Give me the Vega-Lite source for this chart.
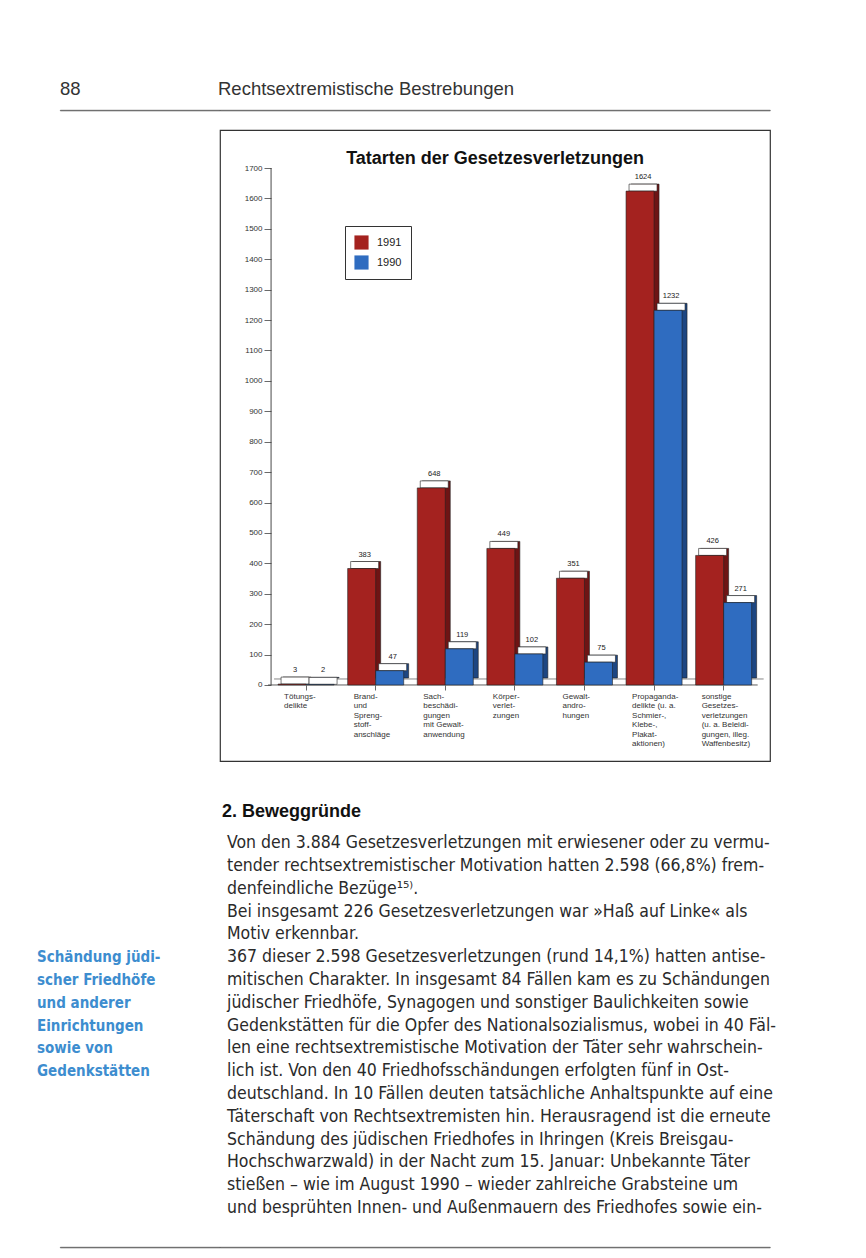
{
  "$schema": "https://vega.github.io/schema/vega-lite/v6.json",
  "autosize": {"type": "pad"},
  "padding": {"left": 37, "top": 79, "right": 0, "bottom": 0},
  "background": "white",
  "config": {
    "view": {"stroke": null},
    "font": "Liberation Sans",
    "tick": {"bandSize": 1},
    "legend": {"labelFont": "Liberation Sans", "titleFont": "Liberation Sans"}
  },
  "datasets": {
    "bars": [
      {"cat": "Tötungs-|delikte", "year": "1991", "value": 3},
      {"cat": "Tötungs-|delikte", "year": "1990", "value": 2},
      {"cat": "Brand-|und|Spreng-|stoff-|anschläge", "year": "1991", "value": 383},
      {"cat": "Brand-|und|Spreng-|stoff-|anschläge", "year": "1990", "value": 47},
      {"cat": "Sach-|beschädi-|gungen|mit Gewalt-|anwendung", "year": "1991", "value": 648},
      {"cat": "Sach-|beschädi-|gungen|mit Gewalt-|anwendung", "year": "1990", "value": 119},
      {"cat": "Körper-|verlet-|zungen", "year": "1991", "value": 449},
      {"cat": "Körper-|verlet-|zungen", "year": "1990", "value": 102},
      {"cat": "Gewalt-|andro-|hungen", "year": "1991", "value": 351},
      {"cat": "Gewalt-|andro-|hungen", "year": "1990", "value": 75},
      {"cat": "Propaganda-|delikte (u. a.|Schmier-,|Klebe-,|Plakat-|aktionen)", "year": "1991", "value": 1624},
      {"cat": "Propaganda-|delikte (u. a.|Schmier-,|Klebe-,|Plakat-|aktionen)", "year": "1990", "value": 1232},
      {"cat": "sonstige|Gesetzes-|verletzungen|(u. a. Beleidi-|gungen, illeg.|Waffenbesitz)", "year": "1991", "value": 426},
      {"cat": "sonstige|Gesetzes-|verletzungen|(u. a. Beleidi-|gungen, illeg.|Waffenbesitz)", "year": "1990", "value": 271}
    ],
    "body": [
      {"line": 1, "text": "Von den 3.884 Gesetzesverletzungen mit erwiesener oder zu vermu-"},
      {"line": 2, "text": "tender rechtsextremistischer Motivation hatten 2.598 (66,8%) frem-"},
      {"line": 3, "text": "denfeindliche Bezüge¹⁵⁾."},
      {"line": 4, "text": "Bei insgesamt 226 Gesetzesverletzungen war »Haß auf Linke« als"},
      {"line": 5, "text": "Motiv erkennbar."},
      {"line": 6, "text": "367 dieser 2.598 Gesetzesverletzungen (rund 14,1%) hatten antise-"},
      {"line": 7, "text": "mitischen Charakter. In insgesamt 84 Fällen kam es zu Schändungen"},
      {"line": 8, "text": "jüdischer Friedhöfe, Synagogen und sonstiger Baulichkeiten sowie"},
      {"line": 9, "text": "Gedenkstätten für die Opfer des Nationalsozialismus, wobei in 40 Fäl-"},
      {"line": 10, "text": "len eine rechtsextremistische Motivation der Täter sehr wahrschein-"},
      {"line": 11, "text": "lich ist. Von den 40 Friedhofsschändungen erfolgten fünf in Ost-"},
      {"line": 12, "text": "deutschland. In 10 Fällen deuten tatsächliche Anhaltspunkte auf eine"},
      {"line": 13, "text": "Täterschaft von Rechtsextremisten hin. Herausragend ist die erneute"},
      {"line": 14, "text": "Schändung des jüdischen Friedhofes in Ihringen (Kreis Breisgau-"},
      {"line": 15, "text": "Hochschwarzwald) in der Nacht zum 15. Januar: Unbekannte Täter"},
      {"line": 16, "text": "stießen – wie im August 1990 – wieder zahlreiche Grabsteine um"},
      {"line": 17, "text": "und besprühten Innen- und Außenmauern des Friedhofes sowie ein-"}
    ],
    "heading": [{"line": 0, "text": "2. Beweggründe"}],
    "margin": [
      {"line": 6, "text": "Schändung jüdi-"},
      {"line": 7, "text": "scher Friedhöfe"},
      {"line": 8, "text": "und anderer"},
      {"line": 9, "text": "Einrichtungen"},
      {"line": 10, "text": "sowie von"},
      {"line": 11, "text": "Gedenkstätten"}
    ]
  },
  "resolve": {"legend": {"color": "independent"}},
  "spacing": 160,
  "bounds": "flush",
  "hconcat": [
    {
      "spacing": 0,
      "bounds": "flush",
      "vconcat": [
        {
          "width": 160, "height": 0.5,
          "view": {"stroke": "#555", "strokeWidth": 0.8},
          "title": {"text": "88", "anchor": "start", "baseline": "alphabetic", "offset": -9, "fontSize": 18.5, "fontWeight": "normal", "color": "#333", "font": "Liberation Sans"},
          "data": {"values": [{"a": 1}]},
          "mark": {"type": "text"},
          "encoding": {"text": {"value": ""}}
        },
        {
          "width": 1, "height": 697.3,
          "data": {"values": [{"a": 1}]},
          "mark": {"type": "text"},
          "encoding": {"text": {"value": ""}}
        },
        {
          "width": 1, "height": 410.4,
          "data": {"name": "margin"},
          "mark": {"type": "text", "align": "left", "baseline": "middle", "dx": -23.5, "font": "Liberation Sans Narrow, Arial Narrow, DejaVu Sans Condensed, Liberation Sans", "fontSize": 15, "fontWeight": "bold", "color": "#3d8dcf"},
          "encoding": {
            "y": {"field": "line", "type": "ordinal", "scale": {"domain": [0, 1, 2, 3, 4, 5, 6, 7, 8, 9, 10, 11, 12, 13, 14, 15, 16, 17]}, "axis": null},
            "text": {"field": "text", "type": "nominal"}
          }
        },
        {
          "width": 1, "height": 26.8,
          "data": {"values": [{"a": 1}]},
          "mark": {"type": "text"},
          "encoding": {"text": {"value": ""}}
        },
        {
          "width": 160, "height": 0.5,
          "view": {"stroke": "#555", "strokeWidth": 0.8},
          "data": {"values": [{"a": 1}]},
          "mark": {"type": "text"},
          "encoding": {"text": {"value": ""}}
        }
      ]
    },
    {
      "spacing": 0,
      "bounds": "flush",
      "resolve": {"legend": {"color": "independent"}},
      "vconcat": [
        {
          "width": 550, "height": 0.5,
          "view": {"stroke": "#555", "strokeWidth": 0.8},
          "title": {"text": "Rechtsextremistische Bestrebungen", "anchor": "start", "baseline": "alphabetic", "offset": -9, "dx": -2, "fontSize": 18.5, "fontWeight": "normal", "color": "#333", "font": "Liberation Sans"},
          "data": {"values": [{"a": 1}]},
          "mark": {"type": "text"},
          "encoding": {"text": {"value": ""}}
        },
        {
          "width": 1, "height": 18.5,
          "data": {"values": [{"a": 1}]},
          "mark": {"type": "text"},
          "encoding": {"text": {"value": ""}}
        },
        {
          "width": 550,
          "height": 631,
          "view": {"stroke": "#333", "strokeWidth": 1.2},
          "title": {
            "text": "Tatarten der Gesetzesverletzungen",
            "font": "Liberation Sans",
            "fontSize": 18,
            "fontWeight": "bold",
            "color": "#111",
            "anchor": "middle",
            "offset": -56,
            "baseline": "bottom"
          },
          "layer": [
            {
              "data": {"values": [{"a": 1}]},
              "mark": {"type": "rule", "color": "#333", "strokeWidth": 0.8, "xOffset": -10, "x2Offset": 6},
              "encoding": {
                "x": {"datum": "Tötungs-|delikte", "type": "nominal", "bandPosition": 0},
                "x2": {"datum": "sonstige|Gesetzes-|verletzungen|(u. a. Beleidi-|gungen, illeg.|Waffenbesitz)", "bandPosition": 1},
                "y": {
                  "datum": 0, "type": "quantitative",
                  "axis": {
                    "values": [0, 100, 200, 300, 400, 500, 600, 700, 800, 900, 1000, 1100, 1200, 1300, 1400, 1500, 1600, 1700],
                    "tickCount": 21,
                    "labelExpr": "datum.value < 0 || datum.value > 1700 ? '' : datum.value",
                    "tickOpacity": {"condition": {"test": "datum.value < 0 || datum.value > 1700", "value": 0}, "value": 1},
                    "offset": -51, "domain": false, "grid": false, "title": null,
                    "tickSize": 7, "tickColor": "#444", "tickWidth": 0.8,
                    "labelFontSize": 8, "labelColor": "#333", "labelPadding": 2
                  }
                }
              }
            },
            {
              "data": {"values": [{"a": 1}]},
              "mark": {"type": "rule", "color": "#555", "strokeWidth": 0.7, "xOffset": -4, "x2Offset": 12, "yOffset": -6},
              "encoding": {
                "x": {"datum": "Tötungs-|delikte", "type": "nominal", "bandPosition": 0},
                "x2": {"datum": "sonstige|Gesetzes-|verletzungen|(u. a. Beleidi-|gungen, illeg.|Waffenbesitz)", "bandPosition": 1},
                "y": {"datum": 0, "type": "quantitative"}
              }
            },
            {
              "data": {"name": "bars"},
              "resolve": {"scale": {"xOffset": "independent"}},
              "encoding": {
                "x": {
                  "field": "cat", "type": "nominal", "sort": null,
                  "scale": {
                    "domain": [
                      "Tötungs-|delikte",
                      "Brand-|und|Spreng-|stoff-|anschläge",
                      "Sach-|beschädi-|gungen|mit Gewalt-|anwendung",
                      "Körper-|verlet-|zungen",
                      "Gewalt-|andro-|hungen",
                      "Propaganda-|delikte (u. a.|Schmier-,|Klebe-,|Plakat-|aktionen)",
                      "sonstige|Gesetzes-|verletzungen|(u. a. Beleidi-|gungen, illeg.|Waffenbesitz)"
                    ],
                    "paddingInner": 0.195, "paddingOuter": 0.549, "align": 0.76
                  },
                  "axis": {
                    "orient": "bottom", "offset": -76, "domain": false, "title": null,
                    "tickSize": 5, "tickColor": "#444", "tickWidth": 0.8,
                    "labelAngle": 0, "labelAlign": "left", "labelBaseline": "top",
                    "labelOffset": -22, "labelPadding": 2, "labelFontSize": 8,
                    "labelLineHeight": 9.5, "labelColor": "#333", "labelOverlap": false,
                    "labelBound": false, "labelLimit": 0,
                    "labelExpr": "split(datum.label, '|')"
                  }
                },
                "y": {
                  "field": "value", "type": "quantitative",
                  "scale": {"domain": [-250, 1825], "nice": false, "zero": false},
                  "axis": {
                    "values": [0, 100, 200, 300, 400, 500, 600, 700, 800, 900, 1000, 1100, 1200, 1300, 1400, 1500, 1600, 1700],
                    "tickCount": 21,
                    "labelExpr": "datum.value < 0 || datum.value > 1700 ? '' : datum.value",
                    "tickOpacity": {"condition": {"test": "datum.value < 0 || datum.value > 1700", "value": 0}, "value": 1},
                    "offset": -51, "domain": false, "grid": false, "title": null,
                    "tickSize": 7, "tickColor": "#444", "tickWidth": 0.8,
                    "labelFontSize": 8, "labelColor": "#333", "labelPadding": 2
                  }
                }
              },
              "layer": [
                {
                  "mark": {"type": "bar", "yOffset": -7, "y2Offset": -7, "stroke": "#222", "strokeWidth": 0.6},
                  "encoding": {
                    "xOffset": {"field": "year", "type": "nominal", "sort": ["1991", "1990"], "scale": {"range": [5, 61]}},
                    "fill": {"condition": {"test": "datum.year == '1991'", "value": "#6e1414"}, "value": "#1d4682"}
                  }
                },
                {
                  "mark": {"type": "tick", "thickness": 7, "yOffset": -3.5, "color": "white", "fill": "white", "stroke": "#222", "strokeWidth": 0.6, "opacity": 1},
                  "encoding": {
                    "xOffset": {"field": "year", "type": "nominal", "sort": ["1991", "1990"], "scale": {"range": [3, 59]}}
                  }
                },
                {
                  "mark": {"type": "bar", "stroke": "#222", "strokeWidth": 0.6},
                  "encoding": {
                    "xOffset": {"field": "year", "type": "nominal", "sort": ["1991", "1990"], "scale": {"paddingInner": 0, "paddingOuter": 0}},
                    "color": {
                      "field": "year", "type": "nominal",
                      "scale": {"domain": ["1991", "1990"], "range": ["#a4221f", "#2f6cc0"]},
                      "legend": {
                        "title": null, "orient": "none", "legendX": 125, "legendY": 96,
                        "strokeColor": "#333", "fillColor": "white", "padding": 9,
                        "symbolType": "square", "symbolSize": 200, "symbolStrokeWidth": 0,
                        "labelFontSize": 11, "labelColor": "#222", "rowPadding": 5, "labelOffset": 8
                      }
                    }
                  }
                },
                {
                  "mark": {"type": "text", "dy": -14, "dx": 3, "fontSize": 7.5, "color": "#222"},
                  "encoding": {
                    "xOffset": {"field": "year", "type": "nominal", "sort": ["1991", "1990"], "scale": {"type": "band", "paddingInner": 0, "paddingOuter": 0}},
                    "text": {"field": "value", "type": "quantitative"}
                  }
                }
              ]
            },
            {
              "data": {"values": [{"a": 1}]},
              "mark": {"type": "rule", "color": "#333", "strokeWidth": 0.9, "xOffset": -7},
              "encoding": {
                "x": {"datum": "Tötungs-|delikte", "type": "nominal", "bandPosition": 0},
                "y": {"datum": 0, "type": "quantitative"},
                "y2": {"datum": 1700}
              }
            }
          ]
        },
        {
          "width": 1, "height": 47.8,
          "data": {"values": [{"a": 1}]},
          "mark": {"type": "text"},
          "encoding": {"text": {"value": ""}}
        },
        {
          "width": 1, "height": 410.4,
          "layer": [
            {
              "data": {"name": "heading"},
              "mark": {"type": "text", "align": "left", "baseline": "middle", "dx": 1.5, "dy": -8, "font": "Liberation Sans", "fontSize": 18, "fontWeight": "bold", "color": "#111"},
              "encoding": {
                "y": {"field": "line", "type": "ordinal", "scale": {"domain": [0, 1, 2, 3, 4, 5, 6, 7, 8, 9, 10, 11, 12, 13, 14, 15, 16, 17]}, "axis": null},
                "text": {"field": "text", "type": "nominal"}
              }
            },
            {
              "data": {"name": "body"},
              "mark": {"type": "text", "align": "left", "baseline": "middle", "dx": 6.5, "font": "Liberation Sans Narrow, Arial Narrow, DejaVu Sans Condensed, Liberation Sans", "fontSize": 17.5, "color": "#2a2a2a"},
              "encoding": {
                "y": {"field": "line", "type": "ordinal", "axis": null},
                "text": {"field": "text", "type": "nominal"}
              }
            }
          ]
        },
        {
          "width": 1, "height": 26.8,
          "data": {"values": [{"a": 1}]},
          "mark": {"type": "text"},
          "encoding": {"text": {"value": ""}}
        },
        {
          "width": 550, "height": 0.5,
          "view": {"stroke": "#555", "strokeWidth": 0.8},
          "data": {"values": [{"a": 1}]},
          "mark": {"type": "text"},
          "encoding": {"text": {"value": ""}}
        }
      ]
    }
  ]
}
